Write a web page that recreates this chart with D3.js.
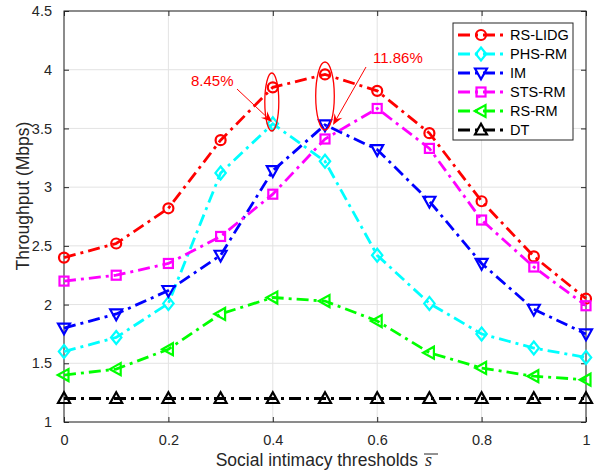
<!DOCTYPE html>
<html>
<head>
<meta charset="utf-8">
<script src="https://cdn.jsdelivr.net/npm/d3@7"></script>
<style>
  body { margin: 0; background: #fff; }
  svg { font-family: "Liberation Sans", Arial, sans-serif; }
</style>
</head>
<body>
<svg id="chart" width="601" height="476"></svg>
<script>
// data
const thresholds = [0, 0.1, 0.2, 0.3, 0.4, 0.5, 0.6, 0.7, 0.8, 0.9, 1];
const rsLidg = [2.40, 2.52, 2.82, 3.40, 3.85, 3.96, 3.82, 3.46, 2.88, 2.41, 2.05];
const phsRm  = [1.60, 1.72, 2.01, 3.12, 3.54, 3.22, 2.42, 2.01, 1.75, 1.63, 1.55];
const im     = [1.80, 1.92, 2.12, 2.42, 3.14, 3.53, 3.32, 2.88, 2.35, 1.96, 1.75];
const stsRm  = [2.20, 2.25, 2.35, 2.58, 2.94, 3.41, 3.67, 3.33, 2.72, 2.32, 1.99];
const rsRm   = [1.40, 1.45, 1.62, 1.92, 2.06, 2.03, 1.86, 1.59, 1.46, 1.39, 1.36];
const dt     = [1.20, 1.20, 1.20, 1.20, 1.20, 1.20, 1.20, 1.20, 1.20, 1.20, 1.20];
const xTicks = [0, 0.2, 0.4, 0.6, 0.8, 1];
const yTicks = [1, 1.5, 2, 2.5, 3, 3.5, 4, 4.5];

const series = [
  { name: "RS-LIDG", values: rsLidg, color: "#ff0000", marker: "circle" },
  { name: "PHS-RM",  values: phsRm,  color: "#00ffff", marker: "diamond" },
  { name: "IM",      values: im,     color: "#0000ff", marker: "tri-down" },
  { name: "STS-RM",  values: stsRm,  color: "#ff00ff", marker: "square" },
  { name: "RS-RM",   values: rsRm,   color: "#00ff00", marker: "tri-left" },
  { name: "DT",      values: dt,     color: "#000000", marker: "tri-up" }
];

// plot box in pixels
const pLeft = 64, pRight = 586, pTop = 11, pBottom = 422;
const axisColor = "#262626";

const svg = d3.select("#chart");
const x = d3.scaleLinear().domain([0, 1]).range([pLeft, pRight]);
const y = d3.scaleLinear().domain([1, 4.5]).range([pBottom, pTop]);

// grid
svg.append("g").selectAll("line").data(xTicks).enter().append("line")
  .attr("x1", d => x(d)).attr("x2", d => x(d))
  .attr("y1", pTop).attr("y2", pBottom)
  .attr("stroke", "#e3e3e3").attr("stroke-width", 1);
svg.append("g").selectAll("line").data(yTicks).enter().append("line")
  .attr("x1", pLeft).attr("x2", pRight)
  .attr("y1", d => y(d)).attr("y2", d => y(d))
  .attr("stroke", "#e3e3e3").attr("stroke-width", 1);

// axes (ticks inward, box on)
const fmt = d => d3.format("~g")(d);
svg.append("g").attr("transform", `translate(0,${pBottom})`)
  .call(d3.axisBottom(x).tickValues(xTicks).tickFormat(fmt).tickSizeInner(-5).tickSizeOuter(0).tickPadding(13))
  .call(g => g.select(".domain").remove());
svg.append("g").attr("transform", `translate(0,${pTop})`)
  .call(d3.axisTop(x).tickValues(xTicks).tickFormat("").tickSizeInner(-5).tickSizeOuter(0))
  .call(g => g.select(".domain").remove());
svg.append("g").attr("transform", `translate(${pLeft},0)`)
  .call(d3.axisLeft(y).tickValues(yTicks).tickFormat(fmt).tickSizeInner(-5).tickSizeOuter(0).tickPadding(12))
  .call(g => g.select(".domain").remove());
svg.append("g").attr("transform", `translate(${pRight},0)`)
  .call(d3.axisRight(y).tickValues(yTicks).tickFormat("").tickSizeInner(-5).tickSizeOuter(0))
  .call(g => g.select(".domain").remove());
svg.selectAll(".tick line").attr("stroke", axisColor);
svg.selectAll(".tick text").attr("fill", axisColor).style("font-size", "14.5px")
  .style("font-family", "'Liberation Sans', Arial, sans-serif");

svg.append("rect")
  .attr("x", pLeft).attr("y", pTop)
  .attr("width", pRight - pLeft).attr("height", pBottom - pTop)
  .attr("fill", "none").attr("stroke", axisColor).attr("stroke-width", 1);

// axis labels
svg.append("text")
  .attr("x", 418).attr("y", 466)
  .attr("text-anchor", "end")
  .attr("fill", axisColor).style("font-size", "17.5px")
  .text("Social intimacy thresholds");
svg.append("text")
  .attr("x", 425).attr("y", 466)
  .attr("fill", axisColor).style("font-size", "18px")
  .attr("font-family", "'Liberation Serif', 'Times New Roman', serif")
  .attr("font-style", "italic")
  .text("s");
svg.append("line")
  .attr("x1", 424).attr("x2", 438).attr("y1", 454).attr("y2", 454)
  .attr("stroke", axisColor).attr("stroke-width", 1);

svg.append("text")
  .attr("transform", "translate(29,196) rotate(-90)")
  .attr("text-anchor", "middle")
  .attr("fill", axisColor).style("font-size", "17.5px")
  .text("Throughput (Mbps)");

// markers
function drawMarker(g, type, cx, cy, color) {
  const s = 6;
  let el;
  if (type === "circle") {
    el = g.append("circle").attr("cx", cx).attr("cy", cy).attr("r", 5);
  } else if (type === "square") {
    el = g.append("rect").attr("x", cx - 4.5).attr("y", cy - 4.5).attr("width", 9).attr("height", 9);
  } else {
    let pts;
    if (type === "diamond") pts = [[0, -6.5], [5.2, 0], [0, 6.5], [-5.2, 0]];
    if (type === "tri-down") pts = [[-s, -s * 0.75], [s, -s * 0.75], [0, s * 1.05]];
    if (type === "tri-up") pts = [[-s, s * 0.75], [s, s * 0.75], [0, -s * 1.05]];
    if (type === "tri-left") pts = [[s * 0.75, -s], [s * 0.75, s], [-s * 1.05, 0]];
    el = g.append("polygon").attr("points", pts.map(p => (cx + p[0]) + "," + (cy + p[1])).join(" "));
  }
  el.attr("fill", "none").attr("stroke", color).attr("stroke-width", 2.2);
}

const line = d3.line().x((d, i) => x(thresholds[i])).y(d => y(d));
const dash = "12,5,3,5";

series.forEach(s => {
  const g = svg.append("g");
  g.append("path")
    .attr("d", line(s.values))
    .attr("fill", "none")
    .attr("stroke", s.color)
    .attr("stroke-width", 2.8)
    .attr("stroke-dasharray", dash);
  s.values.forEach((v, i) => drawMarker(g, s.marker, x(thresholds[i]), y(v), s.color));
});

// annotations
const red = "#ff0000";
function arrow(x1, y1, x2, y2) {
  const ang = Math.atan2(y2 - y1, x2 - x1);
  const len = 11, half = 4.5, back = 7;
  const bx = x2 - len * Math.cos(ang), by = y2 - len * Math.sin(ang);
  const mx = x2 - back * Math.cos(ang), my = y2 - back * Math.sin(ang);
  const px = -Math.sin(ang), py = Math.cos(ang);
  svg.append("line")
    .attr("x1", x1).attr("y1", y1).attr("x2", mx).attr("y2", my)
    .attr("stroke", red).attr("stroke-width", 1);
  svg.append("polygon")
    .attr("points", [[x2, y2], [bx + px * half, by + py * half], [mx, my], [bx - px * half, by - py * half]]
      .map(p => p.join(",")).join(" "))
    .attr("fill", red);
}

svg.append("ellipse")
  .attr("cx", x(0.4) - 1).attr("cy", 102).attr("rx", 7).attr("ry", 29)
  .attr("fill", "none").attr("stroke", red).attr("stroke-width", 1.3);
svg.append("ellipse")
  .attr("cx", x(0.5)).attr("cy", 96).attr("rx", 9.3).attr("ry", 34)
  .attr("fill", "none").attr("stroke", red).attr("stroke-width", 1.3);

svg.append("text").attr("x", 191).attr("y", 86)
  .attr("fill", red).style("font-size", "15px").text("8.45%");
arrow(237, 89, 272, 122);
svg.append("text").attr("x", 373).attr("y", 63)
  .attr("fill", red).style("font-size", "15px").text("11.86%");
arrow(366, 67, 333, 125);

// legend
const lg = svg.append("g");
lg.append("rect")
  .attr("x", 453).attr("y", 23).attr("width", 120).attr("height", 117)
  .attr("fill", "#fff").attr("stroke", axisColor).attr("stroke-width", 1);
series.forEach((s, i) => {
  const ly = 35 + i * 19;
  lg.append("line")
    .attr("x1", 458).attr("x2", 505).attr("y1", ly).attr("y2", ly)
    .attr("stroke", s.color).attr("stroke-width", 2.8)
    .attr("stroke-dasharray", dash);
  drawMarker(lg, s.marker, 481, ly, s.color);
  lg.append("text")
    .attr("x", 510).attr("y", ly + 5)
    .attr("fill", "#000").style("font-size", "14.5px")
    .text(s.name);
});
</script>
</body>
</html>
